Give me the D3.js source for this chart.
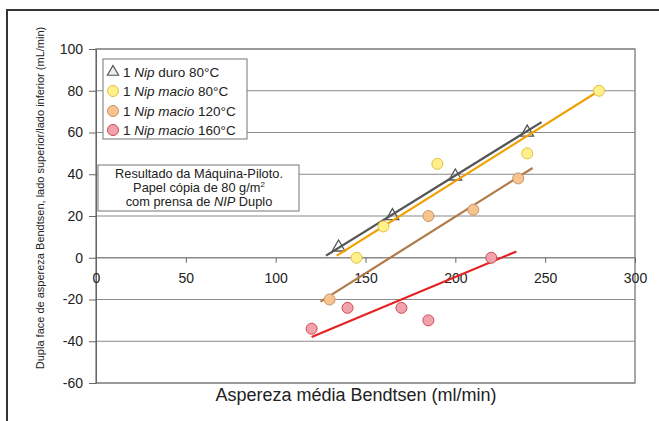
<!DOCTYPE html>
<html>
<head>
<meta charset="utf-8">
<script src="https://cdn.jsdelivr.net/npm/d3@7"></script>
<style>
  body { margin: 0; background: #fff; }
  svg { display: block; font-family: "Liberation Sans", Arial, sans-serif; }
</style>
</head>
<body>
<div id="chart"></div>
<script>
// Measured points (x = aspereza média, y = dupla face)
const duro80X = [135, 165, 200, 240];
const duro80Y = [5, 20, 39, 60];
const macio80X = [145, 160, 190, 240, 280];
const macio80Y = [0, 15, 45, 50, 80];
const macio120X = [130, 185, 210, 235];
const macio120Y = [-20, 20, 23, 38];
const macio160X = [120, 140, 170, 185, 220];
const macio160Y = [-34, -24, -24, -30, 0];

// Trend lines as drawn in the picture: [x0, y0, x1, y1]
const duro80Trend = [128, 1, 248, 65];
const macio80Trend = [134, 1, 280, 80];
const macio120Trend = [125, -21, 243, 43];
const macio160Trend = [120, -38, 234, 3];

const legendLabels = ["duro 80°C", "macio 80°C", "macio 120°C", "macio 160°C"];
const legendItalicPart = [false, true, true, true];
const noteLines = ["Resultado da Máquina-Piloto.", "Papel cópia de 80 g/m²", "com prensa de NIP Duplo"];
const xTicks = [0, 50, 100, 150, 200, 250, 300];
const yTicks = [100, 80, 60, 40, 20, 0, -20, -40, -60];

const width = 659, height = 421;
const plot = { left: 96, right: 635, top: 49, bottom: 383 };

const x = d3.scaleLinear().domain([0, 300]).range([plot.left, plot.right]);
const y = d3.scaleLinear().domain([-60, 100]).range([plot.bottom, plot.top]);

const svg = d3.select("#chart").append("svg")
  .attr("width", width)
  .attr("height", height);

// outer frame (runs past the right and bottom edge)
svg.append("rect")
  .attr("x", 7).attr("y", 10)
  .attr("width", 720).attr("height", 500)
  .attr("fill", "none")
  .attr("stroke", "#333")
  .attr("stroke-width", 2);

// gridlines
svg.append("g").selectAll("line")
  .data(yTicks)
  .join("line")
  .attr("x1", plot.left).attr("x2", plot.right)
  .attr("y1", d => y(d)).attr("y2", d => y(d))
  .attr("stroke", "#8a8a8a")
  .attr("stroke-width", d => d === 0 ? 1.4 : 1.2);

// plot frame
svg.append("rect")
  .attr("x", plot.left).attr("y", plot.top)
  .attr("width", plot.right - plot.left).attr("height", plot.bottom - plot.top)
  .attr("fill", "none")
  .attr("stroke", "#8a8a8a")
  .attr("stroke-width", 1.5);

// y axis (plain hyphen for negatives, as in the original)
const yAxis = svg.append("g")
  .attr("transform", `translate(${plot.left},0)`)
  .call(d3.axisLeft(y).tickValues(yTicks).tickFormat(d => String(d)).tickSize(7).tickPadding(6));
yAxis.select(".domain").attr("stroke", "#666");
yAxis.selectAll(".tick line").attr("stroke", "#666");
yAxis.selectAll("text").attr("font-size", 14).attr("fill", "#222")
  .attr("font-family", "Liberation Sans, Arial, sans-serif");

// x axis sits on y = 0, labels hang below it
const xAxis = svg.append("g")
  .attr("transform", `translate(0,${y(0)})`)
  .call(d3.axisBottom(x).tickValues(xTicks).tickFormat(d => String(d)).tickSize(5).tickPadding(10));
xAxis.select(".domain").remove();
xAxis.selectAll(".tick line").attr("stroke", "#666");
xAxis.selectAll("text").attr("font-size", 14).attr("fill", "#222")
  .attr("font-family", "Liberation Sans, Arial, sans-serif");

// axis titles
svg.append("text")
  .attr("x", 356)
  .attr("y", 401)
  .attr("text-anchor", "middle")
  .attr("font-size", 18)
  .attr("fill", "#222")
  .text("Aspereza média Bendtsen (ml/min)");

svg.append("text")
  .attr("transform", "translate(44,198) rotate(-90)")
  .attr("text-anchor", "middle")
  .attr("font-size", 11)
  .attr("fill", "#222")
  .text("Dupla face de aspereza Bendtsen, lado superior/lado inferior (mL/min)");

// series definitions
const series = [
  { xs: duro80X, ys: duro80Y, trend: duro80Trend, line: "#555555", shape: "tri", fill: "none", stroke: "#555" },
  { xs: macio80X, ys: macio80Y, trend: macio80Trend, line: "#f0a000", shape: "dot", fill: "#fff08c", stroke: "#e0c040" },
  { xs: macio120X, ys: macio120Y, trend: macio120Trend, line: "#b07a48", shape: "dot", fill: "#f7c48e", stroke: "#c8946a" },
  { xs: macio160X, ys: macio160Y, trend: macio160Trend, line: "#e52222", shape: "dot", fill: "#f2a2aa", stroke: "#cc4a58" }
];

const triPath = d3.symbol().type(d3.symbolTriangle).size(70);

series.forEach(s => {
  // trend line
  svg.append("line")
    .attr("x1", x(s.trend[0])).attr("y1", y(s.trend[1]))
    .attr("x2", x(s.trend[2])).attr("y2", y(s.trend[3]))
    .attr("stroke", s.line)
    .attr("stroke-width", 2.2);

  const pts = s.xs.map((v, i) => [v, s.ys[i]]);
  if (s.shape === "tri") {
    svg.append("g").selectAll("path")
      .data(pts)
      .join("path")
      .attr("d", triPath)
      .attr("transform", d => `translate(${x(d[0])},${y(d[1])})`)
      .attr("fill", "none")
      .attr("stroke", s.stroke)
      .attr("stroke-width", 1.3);
  } else {
    svg.append("g").selectAll("circle")
      .data(pts)
      .join("circle")
      .attr("cx", d => x(d[0]))
      .attr("cy", d => y(d[1]))
      .attr("r", 5.5)
      .attr("fill", s.fill)
      .attr("stroke", s.stroke)
      .attr("stroke-width", 1);
  }
});

// legend
const legend = svg.append("g");
legend.append("rect")
  .attr("x", 103).attr("y", 59)
  .attr("width", 144).attr("height", 80)
  .attr("fill", "#fff")
  .attr("stroke", "#8a8a8a")
  .attr("stroke-width", 1.2);

const legendRowY = [72, 91, 111, 130];
series.forEach((s, i) => {
  const cy = legendRowY[i];
  if (s.shape === "tri") {
    legend.append("path")
      .attr("d", d3.symbol().type(d3.symbolTriangle).size(55))
      .attr("transform", `translate(113,${cy})`)
      .attr("fill", "#eee")
      .attr("stroke", "#555")
      .attr("stroke-width", 1.2);
  } else {
    legend.append("circle")
      .attr("cx", 113).attr("cy", cy).attr("r", 5.5)
      .attr("fill", s.fill).attr("stroke", s.stroke);
  }
  const t = legend.append("text")
    .attr("x", 123).attr("y", cy + 4.5)
    .attr("font-size", 13.5)
    .attr("fill", "#222");
  t.append("tspan").text("1 ");
  t.append("tspan").attr("font-style", "italic").text("Nip");
  const parts = legendLabels[i].split(" ");
  if (legendItalicPart[i]) {
    t.append("tspan").attr("font-style", "italic").text(" " + parts[0]);
  } else {
    t.append("tspan").text(" " + parts[0]);
  }
  t.append("tspan").text(" " + parts[1]);
});

// note box
const note = svg.append("g");
note.append("rect")
  .attr("x", 98).attr("y", 165)
  .attr("width", 201).attr("height", 46)
  .attr("fill", "#fff")
  .attr("stroke", "#8a8a8a")
  .attr("stroke-width", 1.2);

const noteY = [178, 192, 206];
const noteSize = 12.8;
note.append("text").attr("x", 199).attr("y", noteY[0])
  .attr("text-anchor", "middle").attr("font-size", noteSize).attr("fill", "#222")
  .text(noteLines[0]);
const n2 = note.append("text").attr("x", 199).attr("y", noteY[1])
  .attr("text-anchor", "middle").attr("font-size", noteSize).attr("fill", "#222");
n2.append("tspan").text("Papel cópia de 80 g/m");
n2.append("tspan").attr("font-size", 8).attr("dy", -5).text("2");
const n3 = note.append("text").attr("x", 199).attr("y", noteY[2])
  .attr("text-anchor", "middle").attr("font-size", noteSize).attr("fill", "#222");
n3.append("tspan").text("com prensa de ");
n3.append("tspan").attr("font-style", "italic").text("NIP");
n3.append("tspan").text(" Duplo");
</script>
</body>
</html>
